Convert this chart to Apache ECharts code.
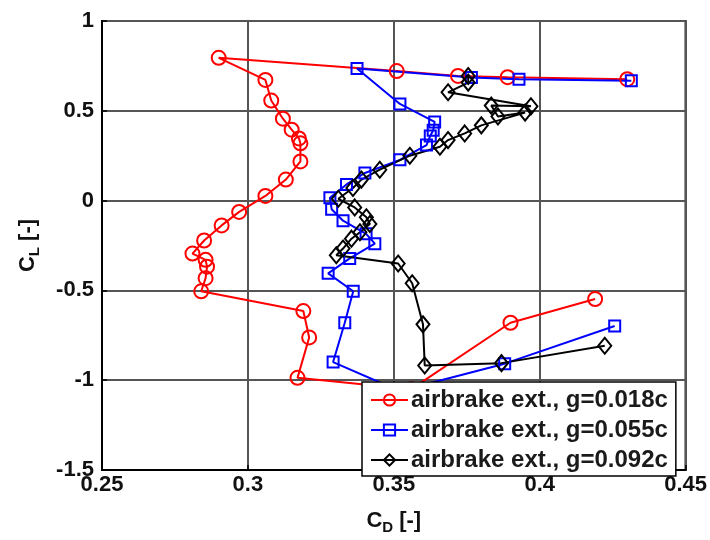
<!DOCTYPE html>
<html>
<head>
<meta charset="utf-8">
<script src="https://cdn.jsdelivr.net/npm/echarts@6/dist/echarts.min.js"></script>
<style>
  html, body { margin: 0; padding: 0; background: #fff; }
  #chart { width: 710px; height: 540px; }
</style>
</head>
<body>
<div id="chart"></div>
<script>
// CD / CL polars, airbrake extended, three gap sizes
var cdRed = [0.430, 0.389, 0.372, 0.351, 0.290, 0.306, 0.308, 0.312, 0.315, 0.3175, 0.318, 0.318,
  0.313, 0.306, 0.297, 0.291, 0.285, 0.281, 0.2855, 0.286, 0.2855, 0.284, 0.319, 0.321, 0.317, 0.356, 0.390, 0.419];
var clRed = [0.676, 0.687, 0.694, 0.721, 0.795, 0.672, 0.557, 0.456, 0.395, 0.346, 0.319, 0.218,
  0.117, 0.026, -0.063, -0.138, -0.222, -0.295, -0.330, -0.368, -0.432, -0.505, -0.615, -0.762, -0.987, -1.05, -0.680, -0.548];

var cdBlue = [0.4314, 0.3929, 0.3766, 0.3374, 0.3521, 0.3640, 0.3635, 0.3625, 0.3612, 0.3521, 0.3401, 0.3338,
  0.3281, 0.3287, 0.3326, 0.3405, 0.3435, 0.3349, 0.3275, 0.3361, 0.3332, 0.3292, 0.352, 0.3880, 0.4257];
var clBlue = [0.667, 0.676, 0.685, 0.736, 0.538, 0.438, 0.392, 0.360, 0.309, 0.227, 0.154, 0.090,
  0.016, -0.048, -0.112, -0.185, -0.240, -0.322, -0.405, -0.505, -0.680, -0.899, -1.06, -0.908, -0.698];

var cdBlack = [0.3755, 0.3755, 0.3686, 0.397, 0.3834, 0.3857, 0.395, 0.380, 0.3743, 0.3686, 0.3658, 0.3555,
  0.3452, 0.3389, 0.3360, 0.3310, 0.3366, 0.3406, 0.3418, 0.3384, 0.3355, 0.3326, 0.3303, 0.3515, 0.3563,
  0.3600, 0.3606, 0.3869, 0.4223];
var clBlack = [0.694, 0.657, 0.603, 0.525, 0.529, 0.468, 0.490, 0.419, 0.374, 0.337, 0.300, 0.250,
  0.172, 0.117, 0.070, 0.010, -0.038, -0.093, -0.130, -0.176, -0.212, -0.267, -0.304, -0.350, -0.460,
  -0.689, -0.918, -0.905, -0.808];

var seriesNames = ['airbrake ext., g=0.018c', 'airbrake ext., g=0.055c', 'airbrake ext., g=0.092c'];

function pairs(xs, ys) {
  var out = [];
  for (var i = 0; i < xs.length; i++) out.push([xs[i], ys[i]]);
  return out;
}

var font = 'Liberation Sans, Arial, sans-serif';
var chart = echarts.init(document.getElementById('chart'));

function lineSeries(name, data, color, symbol, size) {
  return {
    name: name,
    type: 'line',
    data: data,
    symbol: symbol,
    symbolSize: size,
    showAllSymbol: true,
    lineStyle: { color: color, width: 2 },
    itemStyle: { color: 'rgba(255,255,255,0)', borderColor: color, borderWidth: 2 },
    emphasis: { disabled: true },
    animation: false
  };
}

chart.setOption({
  backgroundColor: '#fff',
  grid: {
    left: 102, right: 24, top: 21, bottom: 64,
    show: true, borderColor: '#000', borderWidth: 2
  },
  legend: {
    orient: 'vertical',
    left: 362, top: 382, z: 10,
    padding: [6, 8, 4, 8],
    itemWidth: 37, itemHeight: 14, itemGap: 6,
    backgroundColor: '#fff',
    borderColor: '#000', borderWidth: 1.5,
    textStyle: { fontFamily: font, fontWeight: 'bold', fontSize: 24, color: '#1a1a1a', padding: [0, 0, 0, -2] },
    data: seriesNames
  },
  xAxis: {
    type: 'value',
    min: 0.25, max: 0.45, interval: 0.05,
    name: '{m|C}{s|D}{m| [-]}',
    nameLocation: 'middle', nameGap: 36,
    nameTextStyle: {
      rich: {
        m: { fontFamily: font, fontWeight: 'bold', fontSize: 22, color: '#111' },
        s: { fontFamily: font, fontWeight: 'bold', fontSize: 15, color: '#111', padding: [14, 0, 0, 0] }
      }
    },
    axisLine: { onZero: false, lineStyle: { color: '#000', width: 2 } },
    axisTick: { inside: true, length: 5, lineStyle: { color: '#000', width: 1.5 } },
    axisLabel: {
      fontFamily: font, fontWeight: 'bold', fontSize: 22, color: '#111', margin: 4,
      formatter: function (v) { return String(+v.toFixed(2)); }
    },
    splitLine: { show: true, lineStyle: { color: '#555', width: 2 } }
  },
  yAxis: {
    type: 'value',
    min: -1.5, max: 1, interval: 0.5,
    name: '{m|C}{s|L}{m| [-]}',
    nameLocation: 'middle', nameGap: 60,
    nameTextStyle: {
      rich: {
        m: { fontFamily: font, fontWeight: 'bold', fontSize: 22, color: '#111' },
        s: { fontFamily: font, fontWeight: 'bold', fontSize: 15, color: '#111', padding: [14, 0, 0, 0] }
      }
    },
    axisLine: { onZero: false, lineStyle: { color: '#000', width: 2 } },
    axisTick: { inside: true, length: 5, lineStyle: { color: '#000', width: 1.5 } },
    axisLabel: {
      fontFamily: font, fontWeight: 'bold', fontSize: 22, color: '#111', margin: 8,
      formatter: function (v) { return String(+v.toFixed(2)); }
    },
    splitLine: { show: true, lineStyle: { color: '#555', width: 2 } }
  },
  series: [
    lineSeries(seriesNames[0], pairs(cdRed, clRed), '#ff0000', 'circle', 14),
    lineSeries(seriesNames[1], pairs(cdBlue, clBlue), '#0000ff', 'rect', 11),
    lineSeries(seriesNames[2], pairs(cdBlack, clBlack), '#000000', 'diamond', [13, 16])
  ]
});
</script>
</body>
</html>
